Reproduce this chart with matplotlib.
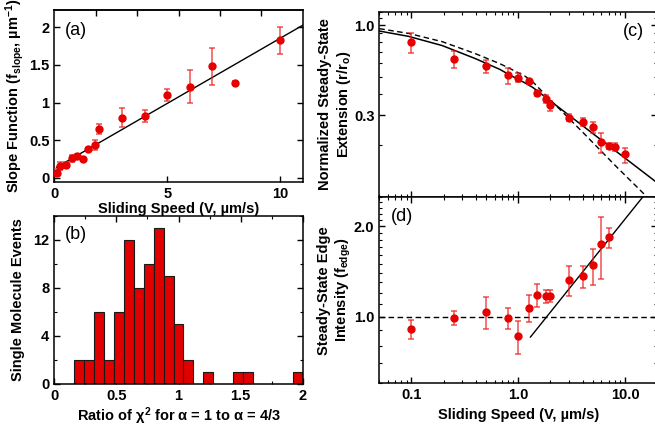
import numpy as np
import matplotlib
matplotlib.use("Agg")
import matplotlib.pyplot as plt
from matplotlib.ticker import FixedLocator, NullFormatter, MultipleLocator, LogLocator, NullLocator

# (a) slope function vs sliding speed
speed_a = [0.1, 0.25, 0.5, 0.8, 1.0, 1.25, 1.5, 1.8, 2.0, 3, 4, 5, 6, 7, 8, 10]
slope_val = [0.07, 0.16, 0.17, 0.26, 0.29, 0.25, 0.38, 0.44, 0.65, 0.80, 0.82, 1.10, 1.21, 1.48, 1.26, 1.83]
slope_err = [0.05, 0.05, 0.04, 0.05, 0.03, 0.02, 0.02, 0.07, 0.07, 0.13, 0.08, 0.08, 0.22, 0.24, 0.03, 0.18]
fit_a_k, fit_a_b = 0.173, 0.124          # linear fit y = b + k*x
fit_a_range = [0.1, 11]

# (b) histogram of chi^2 ratio
ratio_bins = [0.20, 0.28, 0.36, 0.44, 0.52, 0.60, 0.68, 0.76, 0.84, 0.92, 1.00, 1.08,
              1.24, 1.48, 1.56, 1.96]
ratio_counts = [2, 2, 6, 2, 6, 12, 8, 10, 13, 9, 5, 2, 1, 1, 1, 1]
bin_w = 0.08

# (c) normalized steady-state extension
speed_c = [0.1, 0.25, 0.5, 0.8, 1.0, 1.25, 1.5, 1.8, 2.0, 3, 4, 5, 6, 7, 8, 10]
ext_val = [0.80, 0.639, 0.579, 0.511, 0.495, 0.471, 0.401, 0.370, 0.342, 0.289, 0.274, 0.254, 0.209, 0.198, 0.196, 0.177]
ext_lo = [0.693, 0.566, 0.525, 0.453, 0.467, 0.455, 0.387, 0.354, 0.317, 0.277, 0.259, 0.237, 0.181, 0.191, 0.185, 0.158]
ext_hi = [0.906, 0.708, 0.628, 0.566, 0.525, 0.489, 0.414, 0.391, 0.362, 0.303, 0.289, 0.273, 0.237, 0.205, 0.207, 0.193]
# model curves
solid_v = [0.05, 0.094, 0.194, 0.396, 0.675, 0.811, 1.155, 1.38, 2.83, 5.80, 11.9, 20]
solid_r = [0.926, 0.862, 0.762, 0.640, 0.553, 0.518, 0.462, 0.433, 0.307, 0.218, 0.155, 0.121]
dash_v = [0.05, 0.094, 0.194, 0.396, 0.675, 0.811, 1.155, 1.38, 1.98, 4.05, 8.31, 20]
dash_r = [0.956, 0.897, 0.803, 0.684, 0.597, 0.565, 0.506, 0.466, 0.37, 0.237, 0.150, 0.0875]

# (d) steady-state edge intensity
speed_d = [0.1, 0.25, 0.5, 0.8, 1.0, 1.25, 1.5, 1.8, 2.0, 3, 4, 5, 6, 7]
edge_val = [0.91, 0.99, 1.037, 0.987, 0.86, 1.069, 1.184, 1.169, 1.175, 1.328, 1.362, 1.483, 1.746, 1.843]
edge_lo = [0.845, 0.94, 0.912, 0.91, 0.751, 0.96, 1.077, 1.11, 1.119, 1.169, 1.246, 1.278, 1.336, 1.694]
edge_hi = [0.977, 1.041, 1.16, 1.069, 0.97, 1.178, 1.288, 1.224, 1.23, 1.479, 1.479, 1.685, 2.142, 1.976]
fit_d_v = [1.3, 16]
fit_d_r = [0.855, 2.6]

plt.rcParams["font.family"] = ["Liberation Sans", "DejaVu Sans"]
plt.rcParams["font.size"] = 10.5
plt.rcParams["font.weight"] = "bold"
plt.rcParams["axes.labelweight"] = "bold"
plt.rcParams["mathtext.fontset"] = "custom"
plt.rcParams["mathtext.rm"] = "Liberation Sans:bold"
plt.rcParams["mathtext.it"] = "Liberation Sans:bold"
plt.rcParams["mathtext.bf"] = "Liberation Sans:bold"
plt.rcParams["mathtext.default"] = "rm"
plt.rcParams["axes.linewidth"] = 1.1
for a in ("x", "y"):
    plt.rcParams[a + "tick.direction"] = "in"
    plt.rcParams[a + "tick.major.size"] = 4
    plt.rcParams[a + "tick.minor.size"] = 2.2
    plt.rcParams[a + "tick.major.width"] = 1.0
    plt.rcParams[a + "tick.minor.width"] = 0.8
plt.rcParams["xtick.top"] = True
plt.rcParams["ytick.right"] = True

RED = "#e60000"
ERR = (0.92, 0.1, 0.1, 0.7)

fig = plt.figure(figsize=(6.55, 4.28), dpi=100)
W, H = 655.0, 428.0


def box(l, t, r, b):
    return [l / W, 1 - b / H, (r - l) / W, (b - t) / H]


ax_a = fig.add_axes(box(54.3, 10, 302.7, 181.7))
ax_b = fig.add_axes(box(54.3, 216, 302.7, 383.7))
ax_c = fig.add_axes(box(379.3, 11.7, 657.2, 197))
ax_d = fig.add_axes(box(379.3, 197, 657.2, 383.3))

ekw = dict(fmt="o", color=RED, ms=5, ecolor=ERR, elinewidth=1.2, capsize=2.5, capthick=1.2, zorder=3)

# ---- (a)
ax_a.errorbar(speed_a, slope_val, yerr=slope_err, **ekw)
xf = np.array(fit_a_range)
ax_a.plot(xf, fit_a_b + fit_a_k * xf, color="black", lw=1.0, zorder=2)
ax_a.set_xlim(0, 11)
ax_a.set_ylim(-0.05, 2.23)
ax_a.xaxis.set_major_locator(FixedLocator([0, 5, 10]))
ax_a.xaxis.set_minor_locator(NullLocator())
ax_a.yaxis.set_major_locator(FixedLocator([0, 0.5, 1, 1.5, 2]))
ax_a.yaxis.set_minor_locator(NullLocator())
ax_a.set_yticklabels(["0", "0.5", "1", "1.5", "2"])
ax_a.set_xticklabels(["0", "5", "10"])
ax_a.tick_params(axis="x", top=False)
top_a = ax_a.secondary_xaxis("top")
top_a.set_xticks(np.arange(1, 6) * 11 / 6)
top_a.tick_params(direction="in", labeltop=False, length=4, width=1.0)
top_a.spines["top"].set_linewidth(1.1)
ax_a.set_xlabel("Sliding Speed (V, µm/s)", labelpad=1)
ax_a.set_ylabel("Slope Function (f$_{slope}$, µm$^{-1}$)", labelpad=2)
ax_a.text(0.043, 0.878, "(a)", transform=ax_a.transAxes, fontsize=13, fontweight="normal", va="center")

# ---- (b)
ax_b.bar(ratio_bins, ratio_counts, width=bin_w, color="#e00000", edgecolor="#1a1a1a", linewidth=0.8, zorder=2)
ax_b.set_xlim(0, 2)
ax_b.set_ylim(0, 14)
ax_b.xaxis.set_major_locator(FixedLocator([0, 0.5, 1, 1.5, 2]))
ax_b.xaxis.set_minor_locator(MultipleLocator(0.25))
ax_b.set_xticklabels(["0", "0.5", "1", "1.5", "2"])
ax_b.yaxis.set_major_locator(FixedLocator([0, 4, 8, 12]))
ax_b.yaxis.set_minor_locator(MultipleLocator(2))
ax_b.set_yticklabels(["0", "4", "8", "12"])
ax_b.set_xlabel("Ratio of χ$^2$ for α = 1 to α = 4/3", labelpad=2)
ax_b.set_ylabel("Single Molecule Events", labelpad=6)
ax_b.text(0.043, 0.887, "(b)", transform=ax_b.transAxes, fontsize=13, fontweight="normal", va="center")

# ---- (c)
ve = np.array(ext_val)
ax_c.errorbar(speed_c, ext_val, yerr=[ve - np.array(ext_lo), np.array(ext_hi) - ve], **ekw)
ax_c.plot(solid_v, solid_r, color="black", lw=1.1, zorder=2)
ax_c.plot(dash_v, dash_r, color="black", lw=1.0, ls=(0, (4, 2.5)), zorder=2)
ax_c.set_xscale("log")
ax_c.set_yscale("log")
ax_c.set_xlim(0.05, 20)
ax_c.set_ylim(0.1, 1.2)
ax_c.yaxis.set_major_locator(FixedLocator([0.3, 1.0]))
ax_c.yaxis.set_minor_locator(FixedLocator([0.1, 0.2, 0.4, 0.5, 0.6, 0.7, 0.8, 0.9, 1.1, 1.2]))
ax_c.yaxis.set_minor_formatter(NullFormatter())
ax_c.set_yticklabels(["0.3", "1.0"])
ax_c.xaxis.set_major_locator(FixedLocator([0.1, 1, 10]))
ax_c.xaxis.set_minor_locator(LogLocator(base=10, subs=np.arange(2, 10)))
ax_c.xaxis.set_major_formatter(NullFormatter())
ax_c.xaxis.set_minor_formatter(NullFormatter())
ax_c.set_ylabel("Normalized Steady-State\nExtension (r/r$_o$)", labelpad=1)
ax_c.text(0.878, 0.892, "(c)", transform=ax_c.transAxes, fontsize=13, fontweight="normal", va="center")

# ---- (d)
vd = np.array(edge_val)
ax_d.errorbar(speed_d, edge_val, yerr=[vd - np.array(edge_lo), np.array(edge_hi) - vd], **ekw)
ax_d.plot(fit_d_v, fit_d_r, color="black", lw=1.0, zorder=2)
ax_d.axhline(1.0, color="black", lw=1.0, ls=(0, (4, 2.5)), zorder=1)
ax_d.set_xscale("log")
ax_d.set_yscale("log")
ax_d.set_xlim(0.05, 20)
ax_d.set_ylim(0.6, 2.5)
ax_d.yaxis.set_major_locator(FixedLocator([1.0, 2.0]))
ax_d.yaxis.set_minor_locator(FixedLocator([0.6, 0.7, 0.8, 0.9, 1.1, 1.2, 1.3, 1.4, 1.5, 1.6, 1.7, 1.8, 1.9, 2.1, 2.2, 2.3, 2.4, 2.5]))
ax_d.yaxis.set_minor_formatter(NullFormatter())
ax_d.set_yticklabels(["1.0", "2.0"])
ax_d.xaxis.set_major_locator(FixedLocator([0.1, 1, 10]))
ax_d.xaxis.set_minor_locator(LogLocator(base=10, subs=np.arange(2, 10)))
ax_d.xaxis.set_minor_formatter(NullFormatter())
ax_d.set_xticklabels(["0.1", "1.0", "10.0"])
ax_d.set_xlabel("Sliding Speed (V, µm/s)", labelpad=4)
ax_d.set_ylabel("Steady-State Edge\nIntensity (f$_{edge}$)", labelpad=1)
ax_d.text(0.042, 0.896, "(d)", transform=ax_d.transAxes, fontsize=13, fontweight="normal", va="center")

fig.savefig("out.png", dpi=100)
